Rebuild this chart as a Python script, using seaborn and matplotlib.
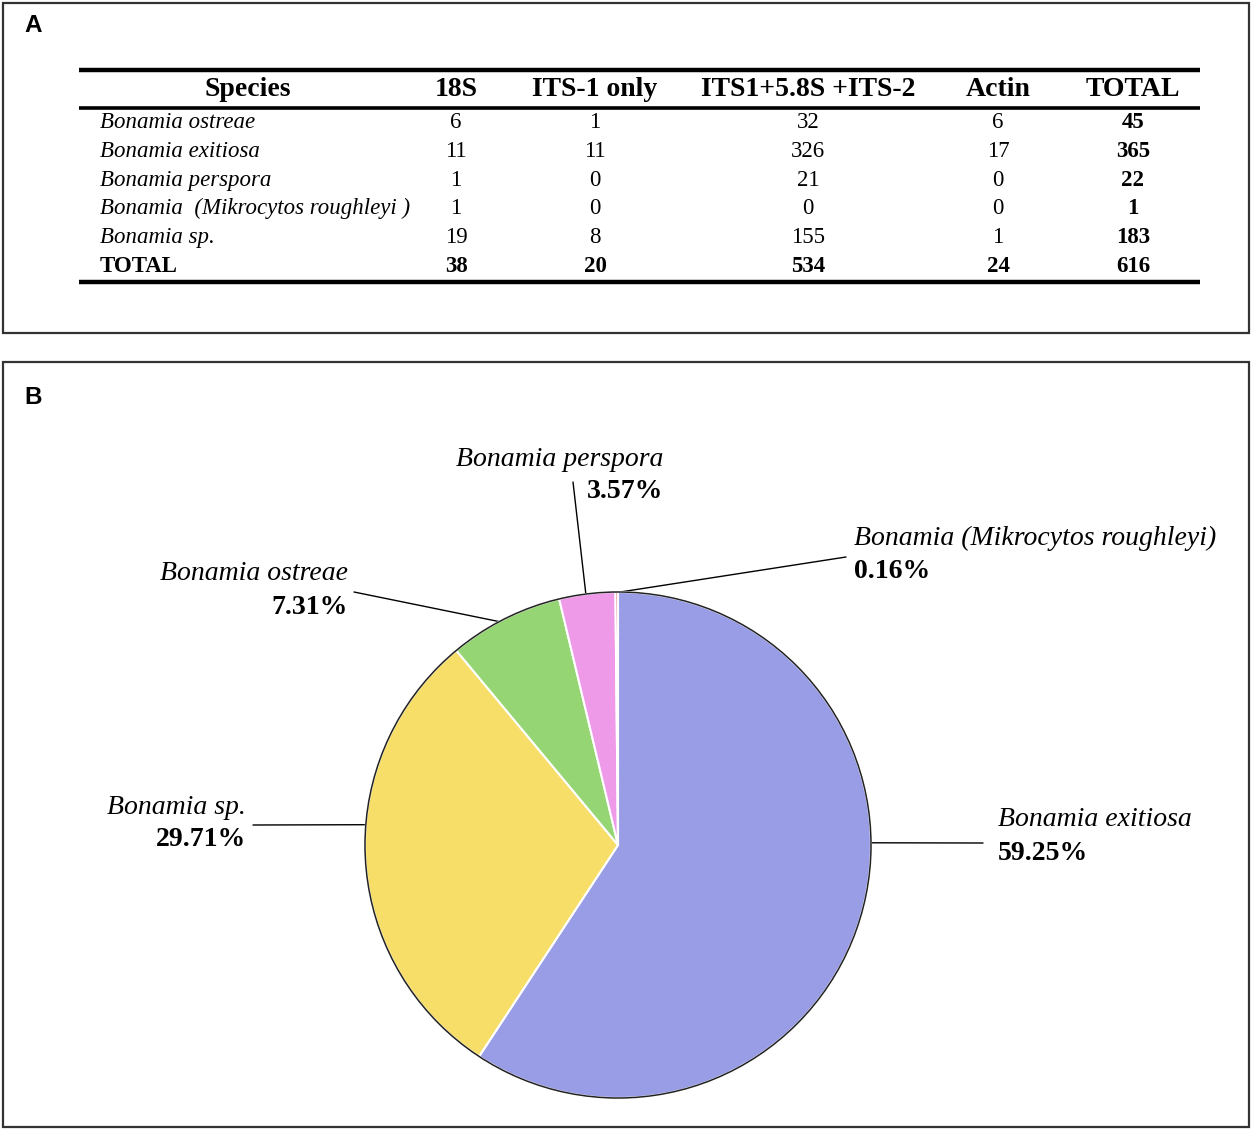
import numpy as np
import pandas as pd
import seaborn as sns
import matplotlib.pyplot as plt
from matplotlib.patches import Rectangle, Circle

# data: panel A table
species = ['Bonamia ostreae', 'Bonamia exitiosa', 'Bonamia perspora',
           'Bonamia  (Mikrocytos roughleyi )', 'Bonamia sp.']
markers = ['18S', 'ITS-1 only', 'ITS1+5.8S +ITS-2', 'Actin']
counts_18s = [6, 11, 1, 1, 19]
counts_its1 = [1, 11, 0, 0, 8]
counts_its_full = [32, 326, 21, 0, 155]
counts_actin = [6, 17, 0, 0, 1]

# data: panel B pie (clockwise from 12 o'clock)
pie_species = ['Bonamia exitiosa', 'Bonamia sp.', 'Bonamia ostreae',
               'Bonamia perspora', 'Bonamia (Mikrocytos roughleyi)']
pie_rows = [1, 4, 0, 2, 3]  # index into table rows
pie_colors = ['#999de6', '#f7de68', '#95d573', '#ee9ae8', '#e8585a']

df = pd.DataFrame({'Species': species, markers[0]: counts_18s, markers[1]: counts_its1,
                   markers[2]: counts_its_full, markers[3]: counts_actin})
df['TOTAL'] = df[markers].sum(axis=1)
col_totals = df[markers + ['TOTAL']].sum()

sns.set_theme(style='white')
plt.rcParams['font.family'] = ['Liberation Serif', 'DejaVu Serif']
plt.rcParams['text.color'] = 'black'

W, H = 1254, 1129
fig = plt.figure(figsize=(W / 100, H / 100), dpi=100)
bg = fig.add_axes([0, 0, 1, 1])
bg.set_xlim(0, W)
bg.set_ylim(H, 0)
bg.axis('off')

# panel frames and letters
for (x0, y0, x1, y1), (lx, ly, letter) in [((3, 3, 1249, 333), (33, 25, 'A')),
                                           ((3, 362, 1249, 1127), (33, 398, 'B'))]:
    bg.add_patch(Rectangle((x0, y0), x1 - x0, y1 - y0, fill=False, ec='#333333', lw=1.6))
    bg.text(lx, ly, letter, ha='center', va='center', fontsize=17.5,
            fontweight='bold', family='Liberation Sans')

# ---- table ----
col_x = [456, 595, 808, 998, 1133]
lx0, lx1 = 79, 1200
bg.plot([lx0, lx1], [70, 70], color='black', lw=3.2, solid_capstyle='butt')
bg.plot([lx0, lx1], [108, 108], color='black', lw=2.6, solid_capstyle='butt')
bg.plot([lx0, lx1], [282, 282], color='black', lw=3.2, solid_capstyle='butt')

head_y = 90
bg.text(248, head_y, 'Species', ha='center', va='center', fontsize=20, fontweight='bold')
for x, name in zip(col_x, markers + ['TOTAL']):
    bg.text(x, head_y, name, ha='center', va='center', fontsize=20, fontweight='bold')

row_y = 123
step = 28.6
for i, row in df.iterrows():
    y = row_y + i * step
    bg.text(100, y, row['Species'], ha='left', va='center', fontsize=16.5, style='italic')
    for x, c in zip(col_x, markers + ['TOTAL']):
        bg.text(x, y, str(row[c]), ha='center', va='center', fontsize=16.5,
                fontweight='bold' if c == 'TOTAL' else 'normal')
y = row_y + len(df) * step
bg.text(100, y, 'TOTAL', ha='left', va='center', fontsize=16.5, fontweight='bold')
for x, c in zip(col_x, markers + ['TOTAL']):
    bg.text(x, y, str(col_totals[c]), ha='center', va='center', fontsize=16.5, fontweight='bold')

# ---- pie ----
cx, cy, r = 618, 845, 253
pax = fig.add_axes([(cx - r) / W, 1 - (cy + r) / H, 2 * r / W, 2 * r / H])
values = df['TOTAL'].iloc[pie_rows].to_numpy()
pct = values / values.sum() * 100
wedges, _ = pax.pie(values, colors=pie_colors, startangle=90, counterclock=False, radius=1,
                    wedgeprops=dict(edgecolor='white', linewidth=1.5))
for w in wedges:
    w.set_clip_on(False)
pax.add_patch(Circle((0, 0), 1, fill=False, ec='#222222', lw=1.1, clip_on=False))
pax.set_xlim(-1, 1)
pax.set_ylim(-1, 1)
pax.axis('off')

# label layout: (anchor angle on rim, line end, text x, name y, pct y, ha)
layout = [
    (0.5, (983, 843), 998, 820, 853, 'left'),
    (175.4, (253, 825), 246, 807, 840, 'right'),
    (118.0, (354, 592), 348, 573, 607, 'right'),
    (97.3, (573, 482), 663, 460, 492, 'right'),
    (89.5, (846, 557), 854, 538, 572, 'left'),
]
for name, p, (ang, end, tx, ny, py, ha) in zip(pie_species, pct, layout):
    a = np.deg2rad(ang)
    ax_, ay_ = cx + r * np.cos(a), cy - r * np.sin(a)
    bg.plot([ax_, end[0]], [ay_, end[1]], color='black', lw=1.0)
    bg.text(tx, ny, name, ha=ha, va='center', fontsize=20, style='italic')
    bg.text(tx, py, f'{p:.2f}%', ha=ha, va='center', fontsize=20, fontweight='bold')

fig.savefig('out.png', dpi=100)
